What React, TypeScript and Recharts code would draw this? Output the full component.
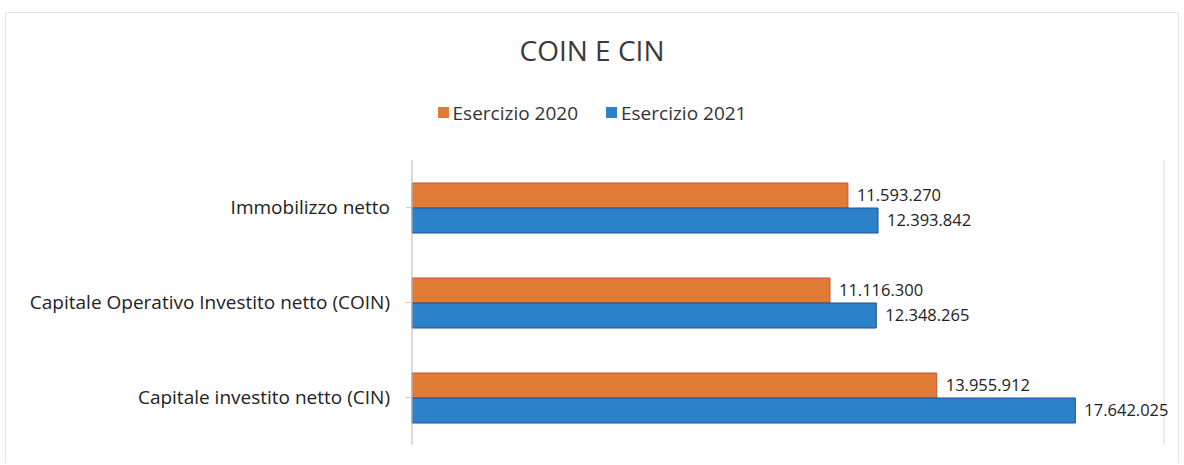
import { BarChart, Bar, XAxis, YAxis, CartesianGrid, LabelList } from 'recharts';

const ORANGE = '#e07a35';
const BLUE = '#2b82c9';
const FONT = '"Open Sans", sans-serif';

const categories = [
  'Immobilizzo netto',
  'Capitale Operativo Investito netto (COIN)',
  'Capitale investito netto (CIN)',
];
const esercizio2020 = [11593270, 11116300, 13955912];
const esercizio2021 = [12393842, 12348265, 17642025];
const xTicks = [0, 4000000, 8000000, 12000000, 16000000, 20000000];

const data = categories.map((name, i) => ({
  name,
  e2020: esercizio2020[i],
  e2021: esercizio2021[i],
}));

function fmt(v: any) {
  return Number(v).toLocaleString('it-IT');
}

function LegendItem({ color, label }: { color: string; label: string }) {
  return (
    <span style={{ display: 'inline-flex', alignItems: 'center', margin: '0 14px' }}>
      <span style={{ width: 11, height: 11, background: color, display: 'inline-block', marginRight: 4 }} />
      {label}
    </span>
  );
}

export default function App() {
  return (
    <div style={{ position: 'absolute', left: 0, top: 0, width: 1184, height: 465, background: '#fff', fontFamily: FONT }}>
      <div style={{ position: 'absolute', left: 5, top: 12, width: 1172, height: 450, border: '1px solid #e4e4e4', borderBottom: 'none' }} />
      <div style={{ position: 'absolute', left: 0, top: 31, width: 1184, textAlign: 'center', fontSize: 28, color: '#3a3a3a' }}>
        COIN E CIN
      </div>
      <div style={{ position: 'absolute', left: 0, top: 98, width: 1184, textAlign: 'center', fontSize: 19, color: '#333' }}>
        <LegendItem color={ORANGE} label="Esercizio 2020" />
        <LegendItem color={BLUE} label="Esercizio 2021" />
      </div>
      <BarChart
        width={1184}
        height={465}
        data={data}
        layout="vertical"
        margin={{ top: 160, right: 20, bottom: 20, left: 0 }}
        barSize={25}
        barGap={0}
      >
        <CartesianGrid horizontal={false} stroke="#d9d9d9" />
        <XAxis
          type="number"
          domain={[0, 20000000]}
          ticks={xTicks}
          tick={false}
          axisLine={false}
          tickLine={false}
          height={0}
        />
        <YAxis
          type="category"
          dataKey="name"
          width={412}
          axisLine={{ stroke: '#c8c8c8' }}
          tickLine={{ stroke: '#c8c8c8' }}
          tickSize={6}
          tickMargin={16}
          tick={{ fill: '#222', fontSize: 19, fontFamily: FONT }}
        />
        <Bar dataKey="e2020" fill={ORANGE} stroke="#c4553a" strokeWidth={1} isAnimationActive={false}>
          <LabelList dataKey="e2020" position="right" offset={9} formatter={fmt} fill="#222" fontSize={16.5} fontFamily={FONT} />
        </Bar>
        <Bar dataKey="e2021" fill={BLUE} stroke="#1e4f99" strokeWidth={1} isAnimationActive={false}>
          <LabelList dataKey="e2021" position="right" offset={9} formatter={fmt} fill="#222" fontSize={16.5} fontFamily={FONT} />
        </Bar>
      </BarChart>
    </div>
  );
}
